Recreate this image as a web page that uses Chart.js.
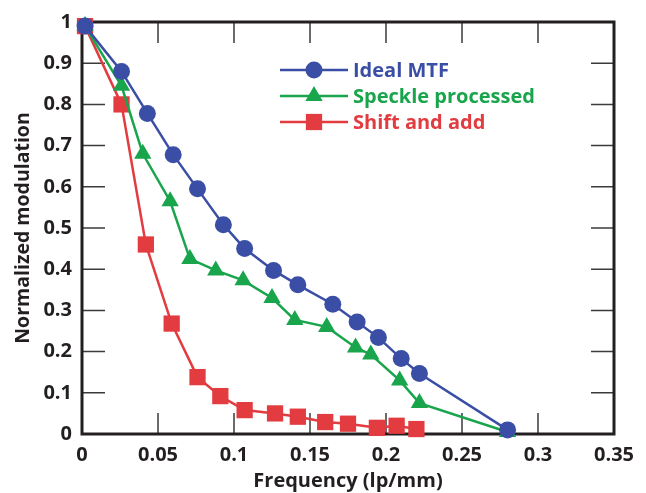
<!DOCTYPE html>
<html>
<head>
<meta charset="utf-8">
<script src="https://cdn.jsdelivr.net/npm/chart.js@4/dist/chart.umd.min.js"></script>
<style>
  html, body { margin: 0; padding: 0; background: #fff; }
  #wrap { width: 646px; height: 493px; }
</style>
</head>
<body>
<div id="wrap"><canvas id="mtf"></canvas></div>
<script>
// values
var seriesNames = ['Ideal MTF', 'Speckle processed', 'Shift and add'];

var idealFreq = [0.002, 0.026, 0.043, 0.060, 0.076, 0.093, 0.107, 0.126, 0.142, 0.165, 0.181, 0.195, 0.210, 0.222, 0.280];
var idealMod  = [0.99, 0.88, 0.778, 0.678, 0.595, 0.508, 0.45, 0.397, 0.362, 0.315, 0.272, 0.234, 0.183, 0.147, 0.01];

var speckleFreq = [0.002, 0.026, 0.040, 0.058, 0.071, 0.088, 0.106, 0.125, 0.140, 0.161, 0.180, 0.190, 0.209, 0.222, 0.280];
var speckleMod  = [0.99, 0.845, 0.68, 0.565, 0.425, 0.397, 0.373, 0.33, 0.277, 0.26, 0.21, 0.193, 0.13, 0.075, 0.005];

var shiftFreq = [0.002, 0.026, 0.042, 0.059, 0.076, 0.091, 0.107, 0.127, 0.142, 0.160, 0.175, 0.194, 0.207, 0.220];
var shiftMod  = [0.99, 0.80, 0.46, 0.268, 0.138, 0.092, 0.058, 0.05, 0.042, 0.029, 0.025, 0.015, 0.02, 0.012];

var xTicks = [0, 0.05, 0.1, 0.15, 0.2, 0.25, 0.3, 0.35];
var yTicks = [0, 0.1, 0.2, 0.3, 0.4, 0.5, 0.6, 0.7, 0.8, 0.9, 1];

var blue = '#3a4ea5';
var green = '#18a54c';
var red = '#e23b40';
var ink = '#231f20';
var FONT = "'Open Sans', 'Noto Sans', sans-serif";

function pairs(xs, ys) {
    return xs.map(function (x, i) { return {x: x, y: ys[i]}; });
}

// inward tick marks + heavy frame
var framePlugin = {
    id: 'frame',
    beforeDatasetsDraw: function (chart) {
        var ctx = chart.ctx, a = chart.chartArea;
        var xs = chart.scales.x, ys = chart.scales.y;
        ctx.save();
        ctx.strokeStyle = '#3b3b3b';
        ctx.lineWidth = 1.5;
        ctx.beginPath();
        xTicks.forEach(function (t) {
            if (t == 0 || t == 0.35) return;
            var px = xs.getPixelForValue(t);
            ctx.moveTo(px, a.bottom); ctx.lineTo(px, a.bottom - 21);
            ctx.moveTo(px, a.top); ctx.lineTo(px, a.top + 21);
        });
        yTicks.forEach(function (t) {
            if (t == 0 || t == 1) return;
            var py = ys.getPixelForValue(t);
            ctx.moveTo(a.left, py); ctx.lineTo(a.left + 23, py);
            ctx.moveTo(a.right, py); ctx.lineTo(a.right - 23, py);
        });
        ctx.stroke();
        ctx.strokeStyle = ink;
        ctx.lineWidth = 3;
        ctx.strokeRect(a.left, a.top, a.right - a.left, a.bottom - a.top);
        ctx.restore();
    }
};

// legend drawn as line + marker + coloured label
var legendPlugin = {
    id: 'lineLegend',
    afterDatasetsDraw: function (chart) {
        var ctx = chart.ctx;
        ctx.save();
        chart.data.datasets.forEach(function (ds, i) {
            var y = 70 + i * 26;
            ctx.strokeStyle = ds.borderColor;
            ctx.lineWidth = 2.5;
            ctx.beginPath();
            ctx.moveTo(280, y); ctx.lineTo(348, y);
            ctx.stroke();
            ctx.fillStyle = ds.backgroundColor;
            Chart.helpers.drawPoint(ctx, {pointStyle: ds.pointStyle, radius: ds.pointRadius, borderWidth: 0}, 314, y);
            ctx.fillStyle = ds.borderColor;
            ctx.font = 'bold 20px ' + FONT;
            ctx.textBaseline = 'middle';
            ctx.textAlign = 'left';
            ctx.fillText(ds.label, 353, y + 1);
        });
        ctx.restore();
    }
};

function series(label, xs, ys, color, style, r) {
    return {
        label: label,
        data: pairs(xs, ys),
        borderColor: color,
        backgroundColor: color,
        borderWidth: 2.5,
        pointStyle: style,
        pointRadius: r,
        pointHoverRadius: r,
        pointBorderWidth: 0,
        tension: 0,
        clip: false
    };
}

var config = {
    type: 'line',
    data: {
        datasets: [
            series(seriesNames[0], idealFreq, idealMod, blue, 'circle', 8.5),
            series(seriesNames[1], speckleFreq, speckleMod, green, 'triangle', 10),
            series(seriesNames[2], shiftFreq, shiftMod, red, 'rect', 11.5)
        ]
    },
    options: {
        responsive: true,
        maintainAspectRatio: false,
        animation: false,
        layout: { padding: { top: 20, right: 32, left: 0, bottom: 0 } },
        plugins: { legend: { display: false }, tooltip: { enabled: false } },
        scales: {
            x: {
                type: 'linear',
                min: 0, max: 0.35,
                afterBuildTicks: function (scale) { scale.ticks = xTicks.map(function (v) { return {value: v}; }); },
                afterFit: function (scale) { scale.height = 59; },
                grid: { display: false, drawTicks: false },
                border: { display: false },
                ticks: {
                    padding: 9,
                    color: ink,
                    font: { family: FONT, size: 20, weight: 'bold' },
                    callback: function (v) { return String(+v.toFixed(2)); }
                },
                title: {
                    display: true,
                    text: 'Frequency (lp/mm)',
                    color: ink,
                    font: { family: FONT, size: 20, weight: 'bold' },
                    padding: { top: 2, bottom: 0 }
                }
            },
            y: {
                min: 0, max: 1,
                afterBuildTicks: function (scale) { scale.ticks = yTicks.map(function (v) { return {value: v}; }); },
                afterFit: function (scale) { scale.width = 82; },
                grid: { display: false, drawTicks: false },
                border: { display: false },
                ticks: {
                    padding: 10,
                    color: ink,
                    font: { family: FONT, size: 20, weight: 'bold' },
                    callback: function (v) { return String(+v.toFixed(1)); }
                },
                title: {
                    display: true,
                    text: 'Normalized modulation',
                    color: ink,
                    font: { family: FONT, size: 19.5, weight: 'bold' },
                    padding: { top: 12, bottom: 0 }
                }
            }
        }
    },
    plugins: [framePlugin, legendPlugin]
};

var mtfChart = new Chart(document.getElementById('mtf').getContext('2d'), config);
</script>
</body>
</html>
